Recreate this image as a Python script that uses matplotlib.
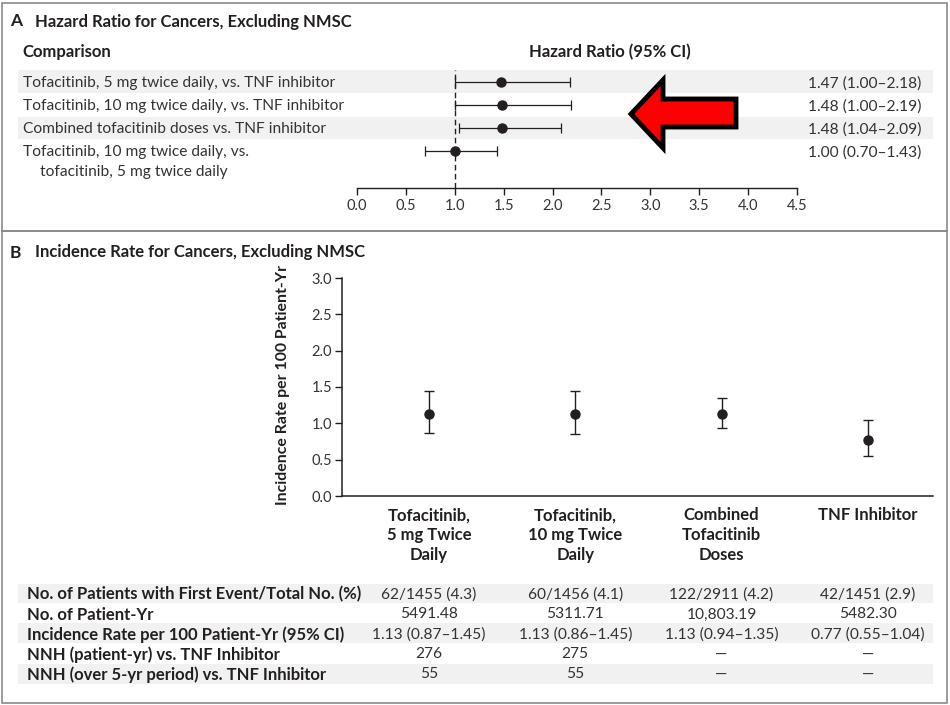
import matplotlib
matplotlib.use("Agg")
import matplotlib.pyplot as plt
from matplotlib.patches import Polygon, Rectangle
from matplotlib.transforms import blended_transform_factory, offset_copy

plt.rcParams['font.family'] = ['Lato', 'DejaVu Sans']

## panel A: hazard ratios
comparisons = ["Tofacitinib, 5 mg twice daily, vs. TNF inhibitor",
               "Tofacitinib, 10 mg twice daily, vs. TNF inhibitor",
               "Combined tofacitinib doses vs. TNF inhibitor",
               "Tofacitinib, 10 mg twice daily, vs."]
last_line = "tofacitinib, 5 mg twice daily"   # second line of the last comparison
hr = [1.47, 1.48, 1.48, 1.00]
hr_lo = [1.00, 1.00, 1.04, 0.70]
hr_hi = [2.18, 2.19, 2.09, 1.43]
hr_ticks = [0.0, 0.5, 1.0, 1.5, 2.0, 2.5, 3.0, 3.5, 4.0, 4.5]

## panel B: incidence rates
groups = ["Tofacitinib,\n5 mg Twice\nDaily", "Tofacitinib,\n10 mg Twice\nDaily",
          "Combined\nTofacitinib\nDoses", "TNF Inhibitor"]
rate = [1.13, 1.13, 1.13, 0.77]
rate_lo = [0.87, 0.86, 0.94, 0.55]
rate_hi = [1.45, 1.45, 1.35, 1.04]
rate_ticks = [0.0, 0.5, 1.0, 1.5, 2.0, 2.5, 3.0]

table_labels = ["No. of Patients with First Event/Total No. (%)",
                "No. of Patient-Yr",
                "Incidence Rate per 100 Patient-Yr (95% CI)",
                "NNH (patient-yr) vs. TNF Inhibitor",
                "NNH (over 5-yr period) vs. TNF Inhibitor"]
events = ["62/1455 (4.3)", "60/1456 (4.1)", "122/2911 (4.2)", "42/1451 (2.9)"]
patient_yr = ["5491.48", "5311.71", "10,803.19", "5482.30"]
nnh_pt_yr = ["276", "275", "\u2014", "\u2014"]
nnh_5yr = ["55", "55", "\u2014", "\u2014"]

W, H = 950, 705
ink = '#231f20'
grey_ink = '#333333'
band = '#f1f1f1'
frame = '#8a8a8a'
fs_reg = 11.2
fs_bold = 12
mid = 'center_baseline'

fig = plt.figure(figsize=(W / 100, H / 100), dpi=100)

def rect(x0, y0, x1, y1):
    return [x0 / W, 1 - y1 / H, (x1 - x0) / W, (y1 - y0) / H]

# canvas in pixel units for frames, bands, text
cv = fig.add_axes([0, 0, 1, 1])
cv.set_xlim(0, W)
cv.set_ylim(H, 0)
cv.axis('off')

# frames
for y0, y1 in [(3, 231), (231, 703)]:
    cv.add_patch(Rectangle((1.5, y0), 945.5, y1 - y0, fill=False, ec=frame, lw=1.2))

# bands
for y0, y1 in [(70, 93), (117, 139), (584, 603), (623, 643), (664, 684)]:
    cv.add_patch(Rectangle((18, y0), 915, y1 - y0, fc=band, ec='none'))

# ---- panel A
cv.text(10, 20, "A", fontsize=12.5, fontweight='bold', color=ink, va=mid)
cv.text(35, 20, "Hazard Ratio for Cancers, Excluding NMSC", fontsize=fs_bold, fontweight='bold', color=ink, va=mid)
cv.text(22, 51, "Comparison", fontsize=fs_bold, fontweight='bold', color=ink, va=mid)
cv.text(610, 51, "Hazard Ratio (95% CI)", fontsize=fs_bold, fontweight='bold', color=ink, va=mid, ha='center')

axA = fig.add_axes(rect(357, 70, 797, 188))
axA.patch.set_alpha(0)
rows = list(range(len(hr)))
axA.set_xlim(0, 4.5)
axA.set_ylim(4.61, -0.52)
axA.axvline(1.0, color=ink, lw=1.0, ls=(0, (4, 2.5)), zorder=1)
axA.errorbar(hr, rows, xerr=[[h - l for h, l in zip(hr, hr_lo)], [u - h for h, u in zip(hr, hr_hi)]],
             fmt='o', ms=6.5, color=ink, ecolor=ink, elinewidth=0.9, capsize=3.5, capthick=0.9, zorder=3)
for s in ['top', 'right', 'left']:
    axA.spines[s].set_visible(False)
axA.spines['bottom'].set_color(ink)
axA.spines['bottom'].set_linewidth(1.0)
axA.set_yticks([])
axA.set_xticks(hr_ticks)
axA.set_xticklabels([f"{t:.1f}" for t in hr_ticks])
axA.tick_params(axis='x', direction='out', length=5, width=1.0, color=ink, labelsize=10.5,
                labelcolor=grey_ink, pad=3)

rowsA = blended_transform_factory(cv.transData, axA.transData)
for i, lab in enumerate(comparisons):
    cv.text(23, i, lab, transform=rowsA, fontsize=fs_reg, color=grey_ink, va=mid)
    cv.text(921, i, f"{hr[i]:.2f} ({hr_lo[i]:.2f}\u2013{hr_hi[i]:.2f})", transform=rowsA,
            fontsize=fs_reg, color=grey_ink, va=mid, ha='right')
cv.text(40, rows[-1], last_line, transform=offset_copy(rowsA, fig, y=-19.5, units='dots'),
        fontsize=fs_reg, color=grey_ink, va=mid)

# red arrow annotation
cv.add_patch(Polygon([(631, 114), (663, 80), (663, 99), (736, 99), (736, 127), (663, 127), (663, 148)],
                     closed=True, fc='#ff0000', ec='black', lw=3.5, joinstyle='miter', zorder=4))

# ---- panel B
cv.text(10, 251, "B", fontsize=12.5, fontweight='bold', color=ink, va=mid)
cv.text(35, 251, "Incidence Rate for Cancers, Excluding NMSC", fontsize=fs_bold, fontweight='bold', color=ink, va=mid)
cv.text(283, 385, "Incidence Rate per 100 Patient-Yr", fontsize=11.4, fontweight='bold', color=ink,
        rotation=90, ha='center', va='center')

axB = fig.add_axes(rect(342, 278, 933, 496))
axB.patch.set_alpha(0)
cols = list(range(len(rate)))
axB.set_xlim(-0.595, 3.445)
axB.set_ylim(0, 3)
axB.errorbar(cols, rate, yerr=[[r - l for r, l in zip(rate, rate_lo)], [u - r for r, u in zip(rate, rate_hi)]],
             fmt='o', ms=6.5, color=ink, ecolor=ink, elinewidth=1.0, capsize=3.5, capthick=1.0)
for s in ['top', 'right']:
    axB.spines[s].set_visible(False)
for s in ['left', 'bottom']:
    axB.spines[s].set_color(ink)
    axB.spines[s].set_linewidth(1.1)
axB.set_yticks(rate_ticks)
axB.set_yticklabels([f"{t:.1f}" for t in rate_ticks])
axB.tick_params(axis='y', direction='out', length=5, width=1.0, color=ink, labelsize=10.5,
                labelcolor=grey_ink, pad=2)
axB.set_xticks(cols)
axB.set_xticklabels(groups, fontsize=fs_bold, fontweight='bold', color=ink, linespacing=1.32, va='top')
axB.tick_params(axis='x', length=0, pad=8)

# table under panel B
colsB = blended_transform_factory(axB.transData, cv.transData)
row_y = [593, 613, 633, 653, 673]
ci_text = [f"{r:.2f} ({l:.2f}\u2013{u:.2f})" for r, l, u in zip(rate, rate_lo, rate_hi)]
table_vals = [events, patient_yr, ci_text, nnh_pt_yr, nnh_5yr]
for y, lab, vals in zip(row_y, table_labels, table_vals):
    cv.text(27, y, lab, fontsize=fs_bold, fontweight='bold', color=ink, va=mid)
    for c, v in zip(cols, vals):
        cv.text(c, y, v, transform=colsB, fontsize=fs_reg, color=grey_ink, va=mid, ha='center')

fig.savefig("out.png", dpi=100)
